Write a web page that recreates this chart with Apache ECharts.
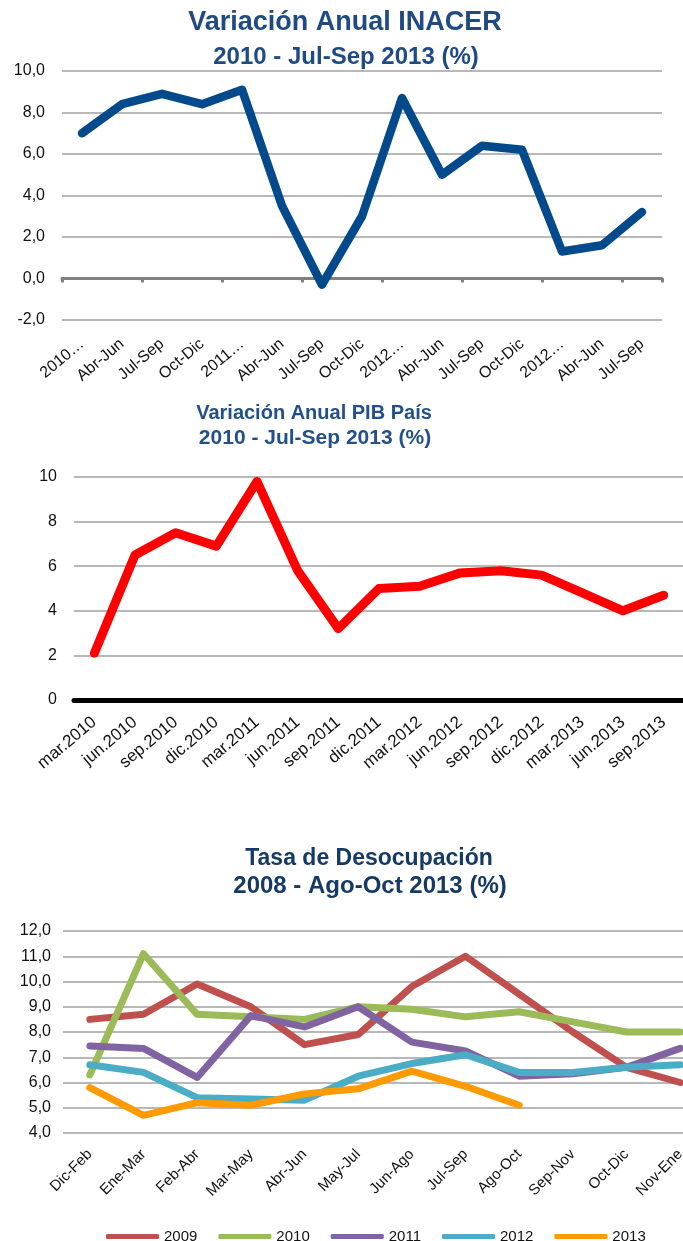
<!DOCTYPE html>
<html>
<head>
<meta charset="utf-8">
<script src="https://cdn.jsdelivr.net/npm/echarts@6/dist/echarts.min.js"></script>
<style>
html,body{margin:0;padding:0;background:#fff;overflow:hidden;}
#c{width:683px;height:1241px;}
</style>
</head>
<body>
<div id="c"></div>
<script>
// ---- Chart 1: Variación Anual INACER ----
const inacerCats = ['2010…','Abr-Jun','Jul-Sep','Oct-Dic','2011…','Abr-Jun','Jul-Sep','Oct-Dic','2012…','Abr-Jun','Jul-Sep','Oct-Dic','2012…','Abr-Jun','Jul-Sep'];
const inacerValues = [7.0, 8.4, 8.9, 8.4, 9.1, 3.5, -0.3, 3.0, 8.7, 5.0, 6.4, 6.2, 1.3, 1.6, 3.2];

// ---- Chart 2: Variación Anual PIB País ----
const pibCats = ['mar.2010','jun.2010','sep.2010','dic.2010','mar.2011','jun.2011','sep.2011','dic.2011','mar.2012','jun.2012','sep.2012','dic.2012','mar.2013','jun.2013','sep.2013'];
const pibValues = [2.1, 6.5, 7.5, 6.9, 9.8, 5.8, 3.2, 5.0, 5.1, 5.7, 5.8, 5.6, 4.8, 4.0, 4.7];

// ---- Chart 3: Tasa de Desocupación ----
const desoCats = ['Dic-Feb','Ene-Mar','Feb-Abr','Mar-May','Abr-Jun','May-Jul','Jun-Ago','Jul-Sep','Ago-Oct','Sep-Nov','Oct-Dic','Nov-Ene'];
const desoYears = ['2009','2010','2011','2012','2013'];
const deso2009 = [8.5, 8.7, 9.9, 9.0, 7.5, 7.9, 9.8, 11.0, 9.5, 8.0, 6.6, 6.0];
const deso2010 = [6.3, 11.1, 8.7, 8.6, 8.5, 9.0, 8.9, 8.6, 8.8, 8.4, 8.0, 8.0];
const deso2011 = [7.45, 7.35, 6.2, 8.65, 8.2, 9.0, 7.6, 7.25, 6.25, 6.35, 6.6, 7.35];
const deso2012 = [6.7, 6.4, 5.4, 5.35, 5.3, 6.25, 6.75, 7.1, 6.4, 6.4, 6.6, 6.7];
const deso2013 = [5.8, 4.7, 5.2, 5.1, 5.55, 5.75, 6.45, 5.85, 5.1];
const desoColors = ['#c0504d','#9bbb59','#8064a2','#4bacc6','#ff9a00'];

const FONT = 'Liberation Sans, Arial, Helvetica, sans-serif';
const comma1 = v => v.toFixed(1).replace('.', ',');
const gridLine = {show:true, lineStyle:{color:'#a0a0a0', width:1.5}};
const axisTxt = {color:'#111', fontFamily:FONT};

const chart = echarts.init(document.getElementById('c'), null, {renderer:'canvas'});
const desoData = [deso2009, deso2010, deso2011, deso2012, deso2013];

const titleStyle = (size, color) => ({fontFamily:FONT, fontSize:size, fontWeight:'bold', color:color});

const option = {
  animation:false,
  backgroundColor:'#fff',
  title:[
    {text:'Variación Anual INACER', left:345, top:9, textAlign:'center', padding:0, textStyle:titleStyle(27,'#1f4a84')},
    {text:'2010 - Jul-Sep 2013 (%)', left:346, top:45, textAlign:'center', padding:0, textStyle:titleStyle(24,'#1f4a84')},
    {text:'Variación Anual PIB País', left:314, top:403, textAlign:'center', padding:0, textStyle:titleStyle(20,'#24508a')},
    {text:'2010 - Jul-Sep 2013 (%)', left:315, top:428, textAlign:'center', padding:0, textStyle:titleStyle(21,'#24508a')},
    {text:'Tasa de Desocupación', left:369, top:847, textAlign:'center', padding:0, textStyle:titleStyle(23,'#163a66')},
    {text:'2008 - Ago-Oct 2013 (%)', left:370, top:874, textAlign:'center', padding:0, textStyle:titleStyle(24,'#163a66')}
  ],
  legend:{
    data:desoYears, left:101, top:1224, icon:'roundRect', itemWidth:53, itemHeight:5, itemGap:21,
    textStyle:{fontFamily:FONT, fontSize:15, color:'#111'}
  },
  grid:[
    {left:62, top:71, width:600, height:249, outerBoundsMode:'none', containLabel:false},
    {left:74, top:477, width:610, height:223, outerBoundsMode:'none', containLabel:false},
    {left:63, top:931, width:644, height:202, outerBoundsMode:'none', containLabel:false}
  ],
  xAxis:[
    {gridIndex:0, type:'category', data:inacerCats, position:'bottom',
     axisLine:{show:false, onZero:false}, axisTick:{show:false},
     axisLabel:{...axisTxt, fontSize:16, rotate:40, interval:0, margin:22}},
    {gridIndex:0, type:'category', data:inacerCats, position:'bottom',
     axisLine:{show:true, onZero:true, lineStyle:{color:'#808080', width:3}},
     axisTick:{show:true, length:4, lineStyle:{color:'#808080', width:3}},
     axisLabel:{show:false}},
    {gridIndex:1, type:'category', data:pibCats, position:'bottom',
     axisLine:{show:true, lineStyle:{color:'#000', width:5}}, axisTick:{show:false},
     axisLabel:{...axisTxt, fontSize:17, rotate:40, interval:0, margin:20}},
    {gridIndex:2, type:'category', data:desoCats, position:'bottom',
     axisLine:{show:false}, axisTick:{show:false},
     axisLabel:{...axisTxt, fontSize:15, rotate:45, interval:0, margin:19}}
  ],
  yAxis:[
    {gridIndex:0, type:'value', min:-2, max:10, interval:2,
     axisLine:{show:false}, axisTick:{show:false}, splitLine:gridLine,
     axisLabel:{...axisTxt, fontSize:16, margin:17, formatter:comma1}},
    {gridIndex:1, type:'value', min:0, max:10, interval:2,
     axisLine:{show:false}, axisTick:{show:false}, splitLine:gridLine,
     axisLabel:{...axisTxt, fontSize:16, margin:17}},
    {gridIndex:2, type:'value', min:4, max:12, interval:1,
     axisLine:{show:false}, axisTick:{show:false}, splitLine:gridLine,
     axisLabel:{...axisTxt, fontSize:16, margin:12, formatter:comma1}}
  ],
  series:[
    {name:'INACER', type:'line', xAxisIndex:0, yAxisIndex:0, data:inacerValues,
     symbol:'none', lineStyle:{color:'#034a8c', width:8.5, cap:'round', join:'round'}, z:3},
    {name:'PIB', type:'line', xAxisIndex:2, yAxisIndex:1, data:pibValues,
     symbol:'none', lineStyle:{color:'#ff0000', width:9, cap:'round', join:'round'}, z:3}
  ].concat(desoYears.map((y, i) => ({
     name:y, type:'line', xAxisIndex:3, yAxisIndex:2, data:desoData[i],
     symbol:'none', color:desoColors[i],
     lineStyle:{color:desoColors[i], width:7, cap:'round', join:'round'}, z:3
  })))
};
chart.setOption(option);
</script>
</body>
</html>
